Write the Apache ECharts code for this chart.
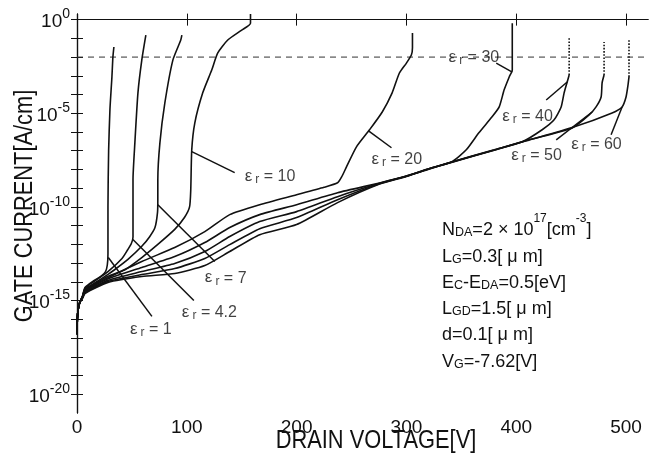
<!DOCTYPE html>
<html>
<head>
	<meta http-equiv="Content-Type" content="text/html; charset=utf-8" />
	<title>Gate current vs drain voltage</title>
	<style>
		html, body { margin: 0; padding: 0; background: #fff; }
		#main { width: 664px; height: 461px; }
	</style>
</head>
<body>
	<div id="main"></div>
	<script src="https://cdn.jsdelivr.net/npm/echarts@6/dist/echarts.min.js"></script>
	<script type="text/javascript">
		// axis ticks
		var voltTicks = [0, 100, 200, 300, 400, 500];
		var decadeLabels = [-20, -15, -10, -5, 0];
		var decadeTicks = [-20, -19, -18, -17, -16, -15, -14, -13, -12, -11, -10, -9, -8, -7, -6, -5, -4, -3, -2, -1, 0];
		var refLevel = -2; // dashed line, log10 of 1e-2 A/cm

		// [drain voltage V, log10 gate current A/cm]
		var er1 = [[0,-16.8],[0.3,-16.0],[1,-15.5],[2.5,-15.1],[5,-14.75],[7.3,-14.3],[15,-13.95],[22,-13.7],[26,-13.45],[27.6,-13.1],[28.2,-12.5],[28.2,-10],[28.8,-7],[30,-4.8],[31.8,-3.06],[32.7,-2],[33.6,-1.46]];
		var er4 = [[0,-16.8],[0.3,-16.0],[1,-15.5],[2.5,-15.1],[5,-14.78],[7.3,-14.35],[15,-14.0],[28.2,-13.45],[41,-12.75],[46,-12.3],[49.5,-11.95],[51,-11.6],[51,-8.55],[52.7,-6.58],[55.5,-3.91],[59,-2.16],[62.7,-0.83]];
		var er7 = [[0,-16.8],[0.3,-16.0],[1,-15.5],[2.5,-15.1],[5,-14.8],[7.3,-14.38],[15,-14.1],[28.2,-13.6],[34.5,-13.34],[46.4,-12.8],[59,-12.1],[66,-11.6],[71,-11.1],[73.3,-10.3],[73.6,-9.6],[73.6,-8.55],[75.5,-6.58],[80,-4.45],[87.3,-2.16],[94.5,-1.09],[95.5,-0.83]];
		var er10 = [[0,-16.8],[0.3,-16.0],[1,-15.5],[2.5,-15.1],[5,-14.8],[7.3,-14.41],[15,-14.15],[28.2,-13.7],[43.6,-13.35],[59,-12.7],[73.6,-12.0],[89,-11.2],[98,-10.55],[102.5,-10.0],[103.6,-9.08],[104.5,-6.95],[107.3,-5.51],[114.5,-3.91],[122.7,-2.69],[128.2,-1.78],[137.3,-1.09],[150,-0.56],[158,-0.19],[158,0.3]];
		var er20 = [[0,-16.8],[0.3,-16.0],[1,-15.5],[2.5,-15.1],[5,-14.8],[7.3,-14.45],[28.2,-13.78],[59,-12.91],[89,-12.17],[116.4,-11.32],[139.1,-10.41],[166.4,-9.88],[200,-9.35],[225,-8.95],[237.3,-8.71],[241,-8.4],[245.5,-7.85],[254.5,-6.79],[266.4,-5.88],[278,-4.93],[287,-3.91],[293.6,-2.85],[300,-2.32],[304.5,-1.89],[305.5,-1.5],[305.5,-0.72]];
		var er30 = [[0,-16.8],[0.3,-16.0],[1,-15.5],[2.5,-15.1],[5,-14.82],[7.3,-14.5],[28.2,-13.84],[59,-13.23],[89,-12.65],[116.4,-11.9],[139.1,-11.1],[166.4,-10.41],[200,-9.88],[237.3,-9.24],[275.5,-8.72],[300,-8.35],[321,-7.95],[341,-7.6],[354.5,-6.95],[366,-6.04],[378,-5.19],[384.5,-4.66],[389,-3.75],[393.6,-3.06],[396.4,-2.69],[396.4,-0.19]];
		var er40 = [[0,-16.8],[0.3,-16.0],[1,-15.5],[2.5,-15.1],[5,-14.84],[7.3,-14.55],[28.2,-13.92],[59,-13.45],[89,-13.02],[116.4,-12.38],[139.1,-11.58],[166.4,-10.78],[200,-10.25],[237.3,-9.45],[275.5,-8.74],[300,-8.35],[321,-7.95],[341,-7.6],[380,-6.95],[405.5,-6.52],[423.6,-5.88],[434.5,-5.35],[440.9,-4.66],[443.6,-3.91],[446.4,-3.33],[448.2,-2.96]];
		var er50 = [[0,-16.8],[0.3,-16.0],[1,-15.5],[2.5,-15.1],[5,-14.86],[7.3,-14.58],[28.2,-13.98],[59,-13.61],[89,-13.29],[116.4,-12.75],[139.1,-12.01],[166.4,-11.16],[200,-10.57],[237.3,-9.61],[275.5,-8.76],[300,-8.36],[321,-7.96],[341,-7.61],[380,-6.96],[409,-6.46],[451,-5.78],[466.4,-5.09],[472.7,-4.66],[477.3,-4.13],[478.2,-3.38],[480,-2.96]];
		var er60 = [[0,-16.8],[0.3,-16.0],[1,-15.5],[2.5,-15.1],[5,-14.88],[7.3,-14.62],[28.2,-14.03],[59,-13.71],[89,-13.55],[116.4,-13.13],[139.1,-12.38],[166.4,-11.48],[200,-10.94],[237.3,-9.77],[275.5,-8.78],[300,-8.37],[321,-7.97],[341,-7.62],[380,-6.97],[409,-6.47],[451,-5.76],[487.3,-4.98],[496.4,-4.66],[500,-4.13],[501.8,-3.49],[502.7,-3.06]];
		// dotted continuations above the measured range
		var er40Top = [[448.2,-2.96],[448.2,-0.93]];
		var er50Top = [[480,-2.96],[480,-1.2]];
		var er60Top = [[502.7,-3.06],[502.7,-1.09]];

		// curve labels: text, leader line from curve to label, label anchor
		var curveNotes = [
			{ er: '1',   from: [28.5,-12.7],  to: [68.2,-15.84],  at: [48.2,-16.43],  side: 'right' },
			{ er: '4.2', from: [50.9,-11.74], to: [106.4,-14.99], at: [95.5,-15.52],  side: 'right' },
			{ er: '7',   from: [73.6,-9.88],  to: [125.5,-12.91], at: [116.4,-13.7],  side: 'right' },
			{ er: '10',  from: [104.5,-7.05], to: [143.6,-8.17],  at: [152.7,-8.28],  side: 'right' },
			{ er: '20',  from: [265.5,-5.94], to: [286.4,-6.84],  at: [268.2,-7.38],  side: 'right' },
			{ er: '30',  from: [396.4,-2.8],  to: [381.8,-2.32],  at: [384.5,-1.94],  side: 'left' },
			{ er: '40',  from: [446.4,-3.33], to: [427.3,-4.29],  at: [387.3,-5.06],  side: 'right' },
			{ er: '50',  from: [469.1,-4.93], to: [436.4,-6.42],  at: [395.5,-7.16],  side: 'right' },
			{ er: '60',  from: [496.4,-4.66], to: [486.4,-6.15],  at: [450,-6.58],    side: 'right' }
		];

		var fontReg = '"Liberation Sans", Arial, sans-serif';
		var ink = '#111';

		function curve(pts, dotted) {
			return {
				type: 'line',
				data: pts,
				showSymbol: false,
				symbol: 'none',
				smooth: dotted ? false : 0.2,
				silent: true,
				lineStyle: { color: ink, width: 1.6, type: dotted ? 'dotted' : 'solid' },
				z: 3
			};
		}

		var series = [
			{
				type: 'line',
				data: [[0, refLevel], [520, refLevel]],
				symbol: 'none',
				silent: true,
				lineStyle: { color: '#333', width: 1, type: [6, 5] },
				z: 2
			}
		];
		[er1, er4, er7, er10, er20, er30, er40, er50, er60].forEach(function (c) {
			series.push(curve(c, false));
		});
		[er40Top, er50Top, er60Top].forEach(function (c) {
			series.push(curve(c, true));
		});
		curveNotes.forEach(function (n) {
			series.push({
				type: 'line',
				data: [n.from, n.to],
				symbol: 'none',
				silent: true,
				lineStyle: { color: ink, width: 1.5 },
				z: 4
			});
		});
		series.push({
			type: 'scatter',
			symbolSize: 0,
			silent: true,
			z: 5,
			data: curveNotes.map(function (n) {
				return {
					value: n.at,
					label: {
						show: true,
						position: n.side,
						distance: 0,
						formatter: '{e|ε}{r|r}{t| = ' + n.er + '}'
					}
				};
			}),
			label: {
				color: ink,
				rich: {
					e: { fontSize: 17, fontFamily: fontReg, color: ink, verticalAlign: 'bottom', lineHeight: 20 },
					r: { fontSize: 12, fontFamily: fontReg, color: ink, verticalAlign: 'bottom', lineHeight: 20, padding: [0, 0, -1, 3] },
					t: { fontSize: 16, fontFamily: fontReg, color: ink, verticalAlign: 'bottom', lineHeight: 20 }
				}
			}
		});

		var paramText = [
			'{n|N}{s|DA}{n|=2 × 10}{p|17}{n|[cm}{p|-3}{n|]}',
			'{n|L}{s|G}{n|=0.3[ μ m]}',
			'{n|E}{s|C}{n|-E}{s|DA}{n|=0.5[eV]}',
			'{n|L}{s|GD}{n|=1.5[ μ m]}',
			'{n|d=0.1[ μ m]}',
			'{n|V}{s|G}{n|=-7.62[V]}'
		].join('\n');

		var chart = echarts.init(document.getElementById('main'), null, { renderer: 'canvas' });
		chart.setOption({
			backgroundColor: '#fff',
			animation: false,
			grid: { left: 77, right: 16, top: 14, bottom: 48, outerBoundsMode: 'none', containLabel: false },
			xAxis: [
				{
					type: 'value', min: 0, max: 520, position: 'bottom',
					axisLine: { show: true, lineStyle: { color: ink, width: 1.2 } },
					axisTick: { show: true, inside: true, length: 6, customValues: voltTicks, lineStyle: { color: ink } },
					axisLabel: { show: true, customValues: voltTicks, fontSize: 19, fontFamily: fontReg, color: ink, margin: 5 },
					splitLine: { show: false }
				},
				{
					type: 'value', min: 0, max: 520, position: 'top',
					axisLine: { show: true, lineStyle: { color: ink, width: 1.2 } },
					axisTick: { show: true, inside: true, length: 6, customValues: voltTicks, lineStyle: { color: ink } },
					axisLabel: { show: false },
					splitLine: { show: false }
				}
			],
			yAxis: [
				{
					type: 'value', min: -21, max: 0.3, position: 'left',
					axisLine: { show: true, lineStyle: { color: ink, width: 1.2 } },
					axisTick: { show: true, inside: true, length: 6, customValues: decadeTicks, lineStyle: { color: ink } },
					axisLabel: {
						show: true, customValues: decadeLabels, margin: 7, color: ink,
						formatter: function (v) { return '{b|10}{s|' + v + '}'; },
						rich: {
							b: { fontSize: 19, fontFamily: fontReg, color: ink, verticalAlign: 'bottom', lineHeight: 24 },
							s: { fontSize: 14, fontFamily: fontReg, color: ink, verticalAlign: 'top', lineHeight: 24 }
						}
					},
					splitLine: { show: false }
				},
				{
					type: 'value', min: -21, max: 0.3, position: 'right',
					axisLine: { show: true, lineStyle: { color: ink, width: 1.2 } },
					axisTick: { show: true, inside: true, length: 6, customValues: decadeTicks, lineStyle: { color: ink } },
					axisLabel: { show: false },
					splitLine: { show: false }
				}
			],
			graphic: [
				{
					type: 'text', x: 376, y: 441, scaleX: 0.84, silent: true,
					style: { text: 'DRAIN VOLTAGE[V]', fill: ink, fontSize: 26, fontFamily: fontReg, align: 'center', verticalAlign: 'middle' }
				},
				{
					type: 'text', x: 25, y: 206, rotation: Math.PI / 2, scaleX: 0.84, silent: true,
					style: { text: 'GATE CURRENT[A/cm]', fill: ink, fontSize: 26, fontFamily: fontReg, align: 'center', verticalAlign: 'middle' }
				},
				{
					type: 'text', left: 442, top: 213, silent: true,
					style: {
						text: paramText,
						fill: ink,
						rich: {
							n: { fontSize: 18, fontFamily: fontReg, verticalAlign: 'bottom', lineHeight: 26.3, fill: ink },
							s: { fontSize: 12.5, fontFamily: fontReg, verticalAlign: 'bottom', lineHeight: 26.3, fill: ink },
							p: { fontSize: 12, fontFamily: fontReg, verticalAlign: 'top', lineHeight: 26.3, fill: ink }
						}
					}
				}
			],
			series: series
		});
	</script>
</body>
</html>
